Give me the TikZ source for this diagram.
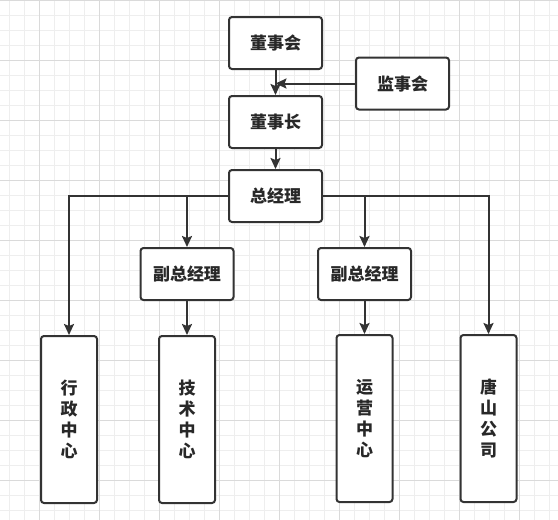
\documentclass[tikz,border=0pt]{standalone}
\usepackage{fontspec}
\newfontfamily\cjk{Noto Sans CJK SC}
\usepackage{tikz}
\usetikzlibrary{positioning, arrows.meta}

\begin{document}
\begin{tikzpicture}[ node distance=25pt and 32pt,
box/.style={draw=linegray, line width=2pt, rounded corners=3pt, fill=white, text=textgray,
  font=\cjk\bfseries\fontsize{17}{21}\selectfont, minimum width=93pt, minimum height=52pt, align=center},
tallbox/.style={box, minimum width=56pt, minimum height=167pt},
arrow/.style={draw=linegray, line width=2pt, -{Stealth[length=11pt, width=10pt, inset=2pt]}} ]

% Define colors
\definecolor{linegray}{RGB}{51, 51, 51}
\definecolor{textgray}{RGB}{40, 40, 40}
\definecolor{minorgrid}{RGB}{238, 238, 238}
\definecolor{majorgrid}{RGB}{218, 218, 218}

% Background grid
\useasboundingbox (0,0) rectangle (558pt,-520pt);
\fill[white] (0,0) rectangle (558pt,-520pt);
\begin{scope}
\clip (0,0) rectangle (558pt,-520pt);
\draw[minorgrid, line width=0.8pt, xshift=9.5pt, step=15pt] (-15pt,15pt) grid (570pt,-540pt);
\draw[majorgrid, line width=0.8pt, xshift=39.5pt, step=60pt] (-60pt,60pt) grid (540pt,-540pt);
\end{scope}

% Nodes
\node[box] (dsh) at (275.5pt,-43pt) {董事会};
\node[box, right=of dsh, yshift=-40.5pt] (jsh) {监事会};
\node[box, below=of dsh] (dsz) {董事长};
\node[box, below=20pt of dsz] (zjl) {总经理};
\node[box, below=24pt of zjl, xshift=-88.5pt] (fz1) {副总经理};
\node[box, below=24pt of zjl, xshift=89pt] (fz2) {副总经理};
\node[tallbox, below=34pt of fz1] (jszx) {技\\术\\中\\心};
\node[tallbox, left=60pt of jszx] (xzzx) {行\\政\\中\\心};
\node[tallbox, below=33pt of fz2] (yyzx) {运\\营\\中\\心};
\node[tallbox, right=66pt of yyzx] (tsgs) {唐\\山\\公\\司};
\coordinate (join) at (dsh.south |- jsh.west);

% Arrows
\draw[arrow] (dsh) -- (dsz);
\draw[arrow] (jsh) -- (join);
\draw[arrow] (dsz) -- (zjl);
\draw[arrow] (zjl.west) -| (xzzx.north);
\draw[arrow] (zjl.west) -| (fz1.north);
\draw[arrow] (zjl.east) -| (fz2.north);
\draw[arrow] (zjl.east) -| (tsgs.north);
\draw[arrow] (fz1) -- (jszx);
\draw[arrow] (fz2) -- (yyzx);

\end{tikzpicture}
\end{document}
